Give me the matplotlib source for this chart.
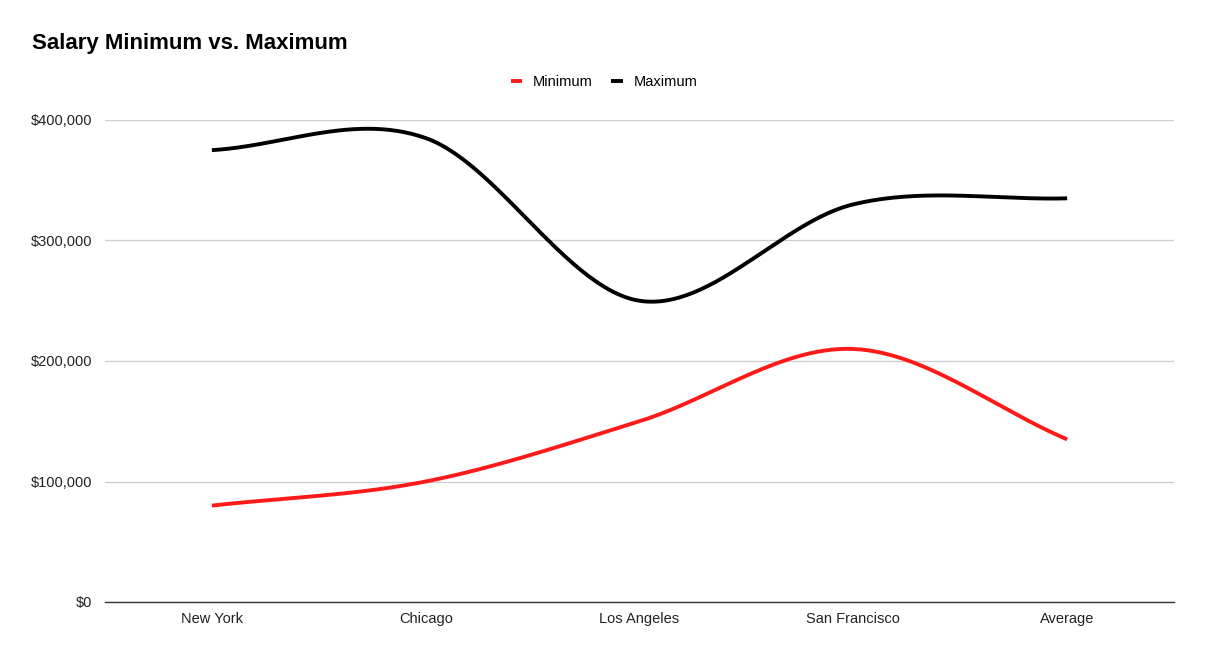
import numpy as np
import matplotlib.pyplot as plt
from matplotlib.ticker import FuncFormatter

cities = ['New York', 'Chicago', 'Los Angeles', 'San Francisco', 'Average']
minimum = [80000, 100000, 150000, 210000, 135000]
maximum = [375000, 385000, 250000, 330000, 335000]


def smooth(y, n=60):
    # catmull-rom style curve through the points, like the sheets "smooth" line
    y = np.asarray(y, dtype=float)
    k = len(y)
    m = np.zeros(k)
    m[1:-1] = (y[2:] - y[:-2]) / 2
    m[0] = y[1] - y[0]
    m[-1] = y[-1] - y[-2]
    xs, ys = [], []
    for i in range(k - 1):
        t = np.linspace(0, 1, n)
        h00 = 2 * t**3 - 3 * t**2 + 1
        h10 = t**3 - 2 * t**2 + t
        h01 = -2 * t**3 + 3 * t**2
        h11 = t**3 - t**2
        xs.append(i + t)
        ys.append(h00 * y[i] + h10 * m[i] + h01 * y[i + 1] + h11 * m[i + 1])
    return np.concatenate(xs), np.concatenate(ys)


plt.rcParams['font.family'] = ['Liberation Sans', 'DejaVu Sans']

fig = plt.figure(figsize=(12.06, 6.58), dpi=100)
ax = fig.add_axes([105 / 1206, 1 - 602 / 658, 1069 / 1206, 482 / 658])

xs, ys = smooth(minimum)
ax.plot(xs, ys, color='#ff1a1a', lw=2.8, solid_capstyle='butt', label='Minimum', zorder=3)
xs, ys = smooth(maximum)
ax.plot(xs, ys, color='#000000', lw=2.8, solid_capstyle='butt', label='Maximum', zorder=3)

ax.set_xlim(-0.5, len(cities) - 0.5)
ax.set_ylim(0, 400000)
ax.set_xticks(range(len(cities)))
ax.set_xticklabels(cities, fontsize=10.5, color='#222222')
ax.set_yticks([0, 100000, 200000, 300000, 400000])
ax.yaxis.set_major_formatter(FuncFormatter(lambda v, p: '${:,.0f}'.format(v)))
ax.tick_params(axis='y', labelsize=10.5, colors='#222222', length=0, pad=9)
ax.tick_params(axis='x', length=0, pad=7)
ax.grid(axis='y', color='#cccccc', lw=0.9)
for s in ['top', 'right', 'left']:
    ax.spines[s].set_visible(False)
ax.spines['bottom'].set_color('#333333')
ax.spines['bottom'].set_linewidth(1.0)
ax.spines['bottom'].set_zorder(4)

fig.text(32 / 1206, 1 - 43 / 658, 'Salary Minimum vs. Maximum', fontsize=16,
         fontweight='bold', va='center', ha='left')

fig.legend(loc='center', bbox_to_anchor=(604 / 1206, 1 - 82 / 658), ncol=2, frameon=False,
           fontsize=10.5, handlelength=0.8, handletextpad=0.7, columnspacing=1.3)

fig.savefig('out.png', dpi=100, facecolor='white')
